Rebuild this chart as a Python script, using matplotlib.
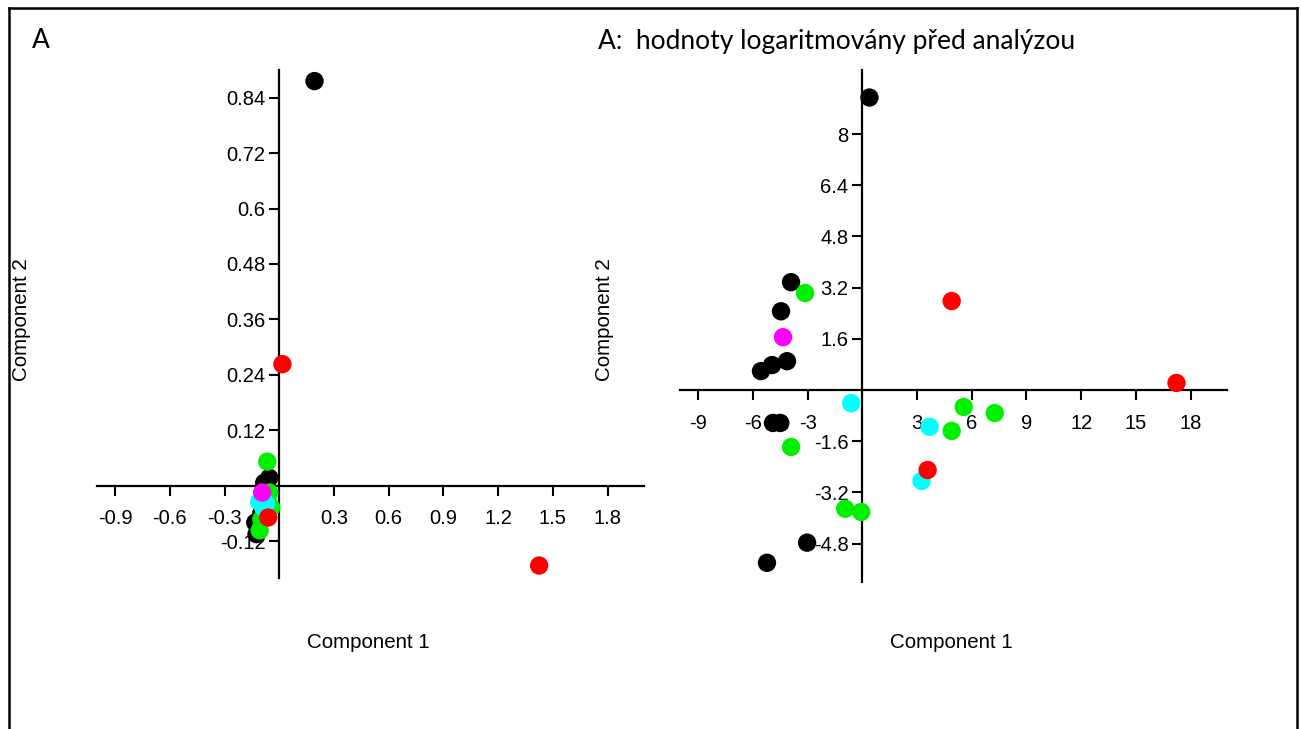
import matplotlib
matplotlib.use('Agg')
import matplotlib.pyplot as plt
from matplotlib.lines import Line2D

# PCA scores, left: raw values, right: log-transformed values
raw_black = [[0.193, 0.876], [-0.055, 0.017], [-0.083, 0.006], [-0.066, -0.006],
             [-0.088, -0.024], [-0.132, -0.080], [-0.125, -0.105], [-0.077, -0.020],
             [-0.099, -0.060], [-0.070, -0.045]]
raw_green = [[-0.066, 0.052], [-0.055, -0.015], [-0.044, -0.047], [-0.066, -0.030],
             [-0.077, -0.056], [-0.099, -0.073], [-0.108, -0.097]]
raw_cyan = [[-0.110, -0.035], [-0.072, -0.039], [-0.088, -0.047]]
raw_red = [[0.017, 0.263], [1.425, -0.173], [-0.061, -0.069]]
raw_magenta = [[-0.094, -0.015]]

log_black = [[0.39, 9.14], [-3.91, 3.37], [-4.46, 2.46], [-4.13, 0.90], [-4.95, 0.78],
             [-5.56, 0.59], [-4.90, -1.03], [-4.50, -1.03], [-3.03, -4.77], [-5.23, -5.40]]
log_green = [[-3.14, 3.03], [5.56, -0.53], [7.26, -0.72], [4.90, -1.28], [-3.91, -1.78],
             [-0.94, -3.71], [-0.06, -3.81]]
log_cyan = [[-0.61, -0.41], [3.69, -1.15], [3.25, -2.84]]
log_red = [[4.90, 2.78], [17.23, 0.22], [3.58, -2.50]]
log_magenta = [[-4.35, 1.65]]

raw_xticks = [-0.9, -0.6, -0.3, 0.3, 0.6, 0.9, 1.2, 1.5, 1.8]
raw_xlabels = ['-0.9', '-0.6', '-0.3', '0.3', '0.6', '0.9', '1.2', '1.5', '1.8']
raw_yticks = [-0.12, 0.12, 0.24, 0.36, 0.48, 0.6, 0.72, 0.84]
raw_ylabels = ['-0.12', '0.12', '0.24', '0.36', '0.48', '0.6', '0.72', '0.84']
log_xticks = [-9, -6, -3, 3, 6, 9, 12, 15, 18]
log_xlabels = ['-9', '-6', '-3', '3', '6', '9', '12', '15', '18']
log_yticks = [-4.8, -3.2, -1.6, 1.6, 3.2, 4.8, 6.4, 8]
log_ylabels = ['-4.8', '-3.2', '-1.6', '1.6', '3.2', '4.8', '6.4', '8']

plt.rcParams['font.family'] = ['Liberation Sans', 'DejaVu Sans']

fig = plt.figure(figsize=(13.01, 7.29), dpi=100)
W, H = 1301, 729


def place(x0, y0, x1, y1):
    return [x0 / W, 1 - y1 / H, (x1 - x0) / W, (y1 - y0) / H]


def draw(ax, groups, xlim, ylim, xt, xl, yt, yl):
    for pts, col in groups:
        ax.scatter([p[0] for p in pts], [p[1] for p in pts], s=175, c=col,
                   edgecolors='none', zorder=3)
    ax.set_xlim(*xlim)
    ax.set_ylim(*ylim)
    for s in ['top', 'right']:
        ax.spines[s].set_visible(False)
    for s in ['left', 'bottom']:
        ax.spines[s].set_position(('data', 0))
        ax.spines[s].set_linewidth(1.6)
    ax.set_xticks(xt, xl)
    ax.set_yticks(yt, yl)
    ax.tick_params(axis='x', direction='out', length=7, width=1.5, pad=10, labelsize=14.5)
    ax.tick_params(axis='y', direction='out', length=7, width=1.5, pad=3, labelsize=14.5)


ax1 = fig.add_axes(place(97, 70, 644, 578))
draw(ax1, [(raw_black, 'black'), (raw_green, '#00f000'), (raw_cyan, '#00ffff'),
           (raw_red, '#ff0000'), (raw_magenta, '#ff00ff')],
     (-1.0, 2.0), (-0.2, 0.9), raw_xticks, raw_xlabels, raw_yticks, raw_ylabels)

ax2 = fig.add_axes(place(680, 70, 1227, 582))
draw(ax2, [(log_black, 'black'), (log_green, '#00f000'), (log_cyan, '#00ffff'),
           (log_red, '#ff0000'), (log_magenta, '#ff00ff')],
     (-10, 20), (-6, 10), log_xticks, log_xlabels, log_yticks, log_ylabels)

# axis labels
fig.text(368 / W, 1 - 643 / H, 'Component 1', ha='center', va='center', fontsize=14.8)
fig.text(951 / W, 1 - 643 / H, 'Component 1', ha='center', va='center', fontsize=14.8)
fig.text(22 / W, 1 - 320 / H, 'Component 2', ha='center', va='center', rotation=90, fontsize=14.8)
fig.text(605 / W, 1 - 320 / H, 'Component 2', ha='center', va='center', rotation=90, fontsize=14.8)

# panel titles
fig.text(32 / W, 1 - 40 / H, 'A', ha='left', va='center', fontsize=19, family=['Lato', 'DejaVu Sans'])
fig.text(598 / W, 1 - 42 / H, 'A:  hodnoty logaritmovány před analýzou', ha='left', va='center',
         fontsize=19, family=['Lato', 'DejaVu Sans'])

# outer frame (bottom edge is cut off)
fig.add_artist(Line2D([9 / W, 9 / W], [0, 1 - 8 / H], color='black', lw=1.8, transform=fig.transFigure))
fig.add_artist(Line2D([9 / W, 1297 / W], [1 - 8 / H, 1 - 8 / H], color='black', lw=1.8, transform=fig.transFigure))
fig.add_artist(Line2D([1297 / W, 1297 / W], [0, 1 - 8 / H], color='black', lw=1.8, transform=fig.transFigure))

fig.savefig('out.png', dpi=100)
